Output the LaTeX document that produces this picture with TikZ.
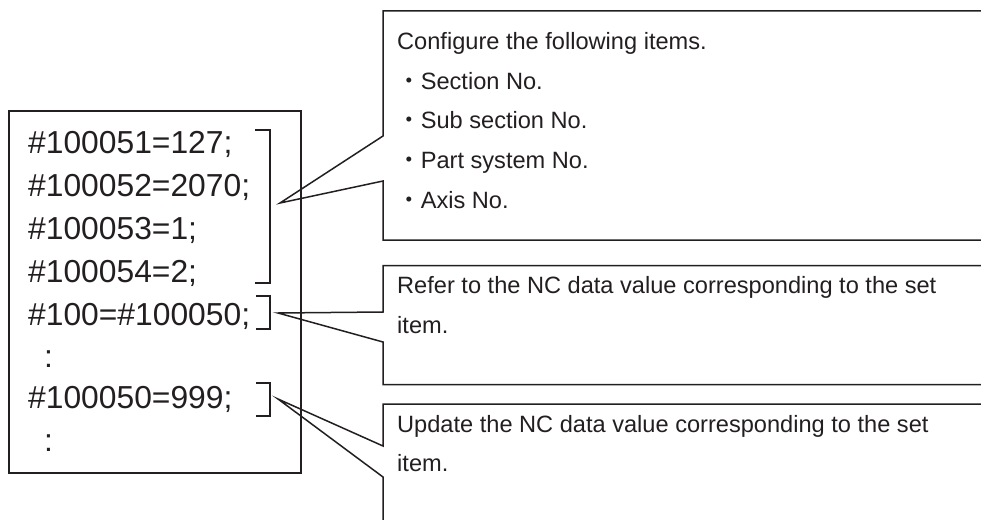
\documentclass[tikz,border=0pt]{standalone}
\usepackage{fontspec}
\setmainfont{Liberation Sans}
\newfontfamily\cjk{Noto Sans CJK JP}
\definecolor{ink}{RGB}{35,31,32}
\begin{document}
\begin{tikzpicture}[x=1pt,y=-1pt,
  line/.style={draw=ink,line width=1.5pt,line join=miter},
  codetext/.style={anchor=base west,inner sep=0pt,text=ink,font=\fontsize{31.8}{36}\selectfont},
  notetext/.style={anchor=base west,inner sep=0pt,text=ink,font=\fontsize{23.6}{28}\selectfont}]
\useasboundingbox (0,0) rectangle (981,519);
% code box
\node (code) [line,anchor=north west,minimum width=292pt,minimum height=362pt,inner sep=0pt] at (8,110) {};
\node (l1) [codetext] at (28,153) {\#100051=127;};
\node (l2) [codetext] at (28,196) {\#100052=2070;};
\node (l3) [codetext] at (28,239) {\#100053=1;};
\node (l4) [codetext] at (28,282) {\#100054=2;};
\node (l5) [codetext] at (28,325) {\#100=\#100050;};
\node (d1) [codetext] at (44,367) {:};
\node (l6) [codetext] at (28,408) {\#100050=999;};
\node (d2) [codetext] at (44,451) {:};
% brackets
\coordinate (b1a) at (255,130); \coordinate (b1b) at (270,130);
\coordinate (b1c) at (270,283); \coordinate (b1d) at (255,283);
\draw[line] (b1a) -- (b1b) -- (b1c) -- (b1d);
\coordinate (b2a) at (256,296); \coordinate (b2b) at (270,296);
\coordinate (b2c) at (270,329); \coordinate (b2d) at (256,329);
\draw[line] (b2a) -- (b2b) -- (b2c) -- (b2d);
\coordinate (b3a) at (256,383); \coordinate (b3b) at (270,383);
\coordinate (b3c) at (270,416); \coordinate (b3d) at (256,416);
\draw[line] (b3a) -- (b3b) -- (b3c) -- (b3d);
% pointer tips
\coordinate (t1) at (280,203);
\coordinate (t2) at (278,313);
\coordinate (t3) at (278,399);
% callout 1
\coordinate (c1a) at (985,11); \coordinate (c1b) at (383,11);
\coordinate (c1c) at (383,136); \coordinate (c1d) at (383,181);
\coordinate (c1e) at (383,240); \coordinate (c1f) at (985,240);
\draw[line] (c1a) -- (c1b) -- (c1c) -- (t1) -- (c1d) -- (c1e) -- (c1f);
\node (n1) [notetext] at (397,49) {Configure the following items.};
\node (n2) [notetext] at (397,89) {{\cjk ・}Section No.};
\node (n3) [notetext] at (397,128.5) {{\cjk ・}Sub section No.};
\node (n4) [notetext] at (397,168.5) {{\cjk ・}Part system No.};
\node (n5) [notetext] at (397,208) {{\cjk ・}Axis No.};
% callout 2
\coordinate (c2a) at (985,265.5); \coordinate (c2b) at (383,265.5);
\coordinate (c2c) at (383,312); \coordinate (c2d) at (383,342);
\coordinate (c2e) at (383,384.5); \coordinate (c2f) at (985,384.5);
\draw[line] (c2a) -- (c2b) -- (c2c) -- (t2) -- (c2d) -- (c2e) -- (c2f);
\node (r1) [notetext] at (397,293) {Refer to the NC data value corresponding to the set};
\node (r2) [notetext] at (397,333) {item.};
% callout 3
\coordinate (c3a) at (985,404); \coordinate (c3b) at (383,404);
\coordinate (c3c) at (383,446); \coordinate (c3d) at (383,477);
\coordinate (c3e) at (383,525);
\draw[line] (c3a) -- (c3b) -- (c3c) -- (t3) -- (c3d) -- (c3e);
\node (u1) [notetext] at (397,432) {Update the NC data value corresponding to the set};
\node (u2) [notetext] at (397,471) {item.};
\end{tikzpicture}
\end{document}
